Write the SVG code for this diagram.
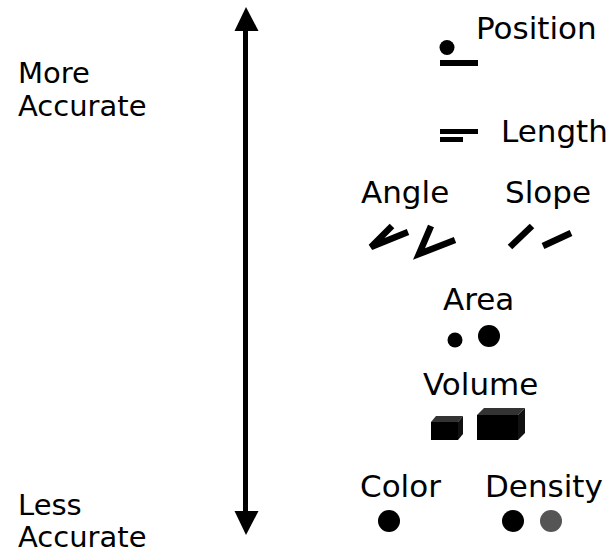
<svg xmlns="http://www.w3.org/2000/svg" width="616" height="552" viewBox="0 0 616 552">
<style>
text{font-family:"DejaVu Sans",Verdana,sans-serif;fill:#000}
.l{font-size:29px}
.r{font-size:31px}
.mark{stroke:#000;stroke-width:6.5;fill:none;stroke-linecap:butt}
</style>
<rect width="616" height="552" fill="#fff"/>
<g id="connectors">
<line x1="245.5" y1="28" x2="245.5" y2="513" stroke="#000" stroke-width="5"/>
<polygon points="246,7 234.5,31 258.5,31" fill="#000"/>
<polygon points="246,535 234.5,511 258.5,511" fill="#000"/>
</g>
<g id="more-accurate"><text class="l" x="18" y="83">More</text><text class="l" x="18" y="116">Accurate</text></g>
<g id="less-accurate"><text class="l" x="18" y="515">Less</text><text class="l" x="18" y="547">Accurate</text></g>
<g id="position">
<text class="r" x="476" y="39">Position</text>
<circle cx="447" cy="47.5" r="7.5"/>
<rect x="440" y="60" width="38" height="6"/>
</g>
<g id="length">
<text class="r" x="501" y="142">Length</text>
<rect x="440" y="129" width="38" height="5"/>
<rect x="440" y="137" width="23" height="5"/>
</g>
<g id="angle">
<text class="r" x="361" y="203">Angle</text>
<path class="mark" d="M392,226 L371,247 L408,232"/>
<path class="mark" d="M431,226 L419,254 L455,240"/>
</g>
<g id="slope">
<text class="r" x="505" y="203">Slope</text>
<path class="mark" d="M510,247 L532,226"/>
<path class="mark" d="M543,246 L571,233"/>
</g>
<g id="area">
<text class="r" x="443" y="310">Area</text>
<circle cx="455" cy="340" r="7.5"/>
<circle cx="489" cy="336" r="11"/>
</g>
<g id="volume">
<text class="r" x="423" y="395">Volume</text>
<polygon points="431,422 436,416 463,416 458,422" fill="#333"/>
<polygon points="458,422 463,416 463,434 458,440" fill="#111"/>
<rect x="431" y="422" width="27" height="18" fill="#000"/>
<polygon points="477,415 484,408 525,408 518,415" fill="#333"/>
<polygon points="518,415 525,408 525,433 518,440" fill="#111"/>
<rect x="477" y="415" width="41" height="25" fill="#000"/>
</g>
<g id="color">
<text class="r" x="360" y="497">Color</text>
<circle cx="389" cy="521" r="11"/>
</g>
<g id="density">
<text class="r" x="485" y="497">Density</text>
<circle cx="513" cy="521" r="11"/>
<circle cx="551" cy="521" r="11" fill="#555"/>
</g>
</svg>
